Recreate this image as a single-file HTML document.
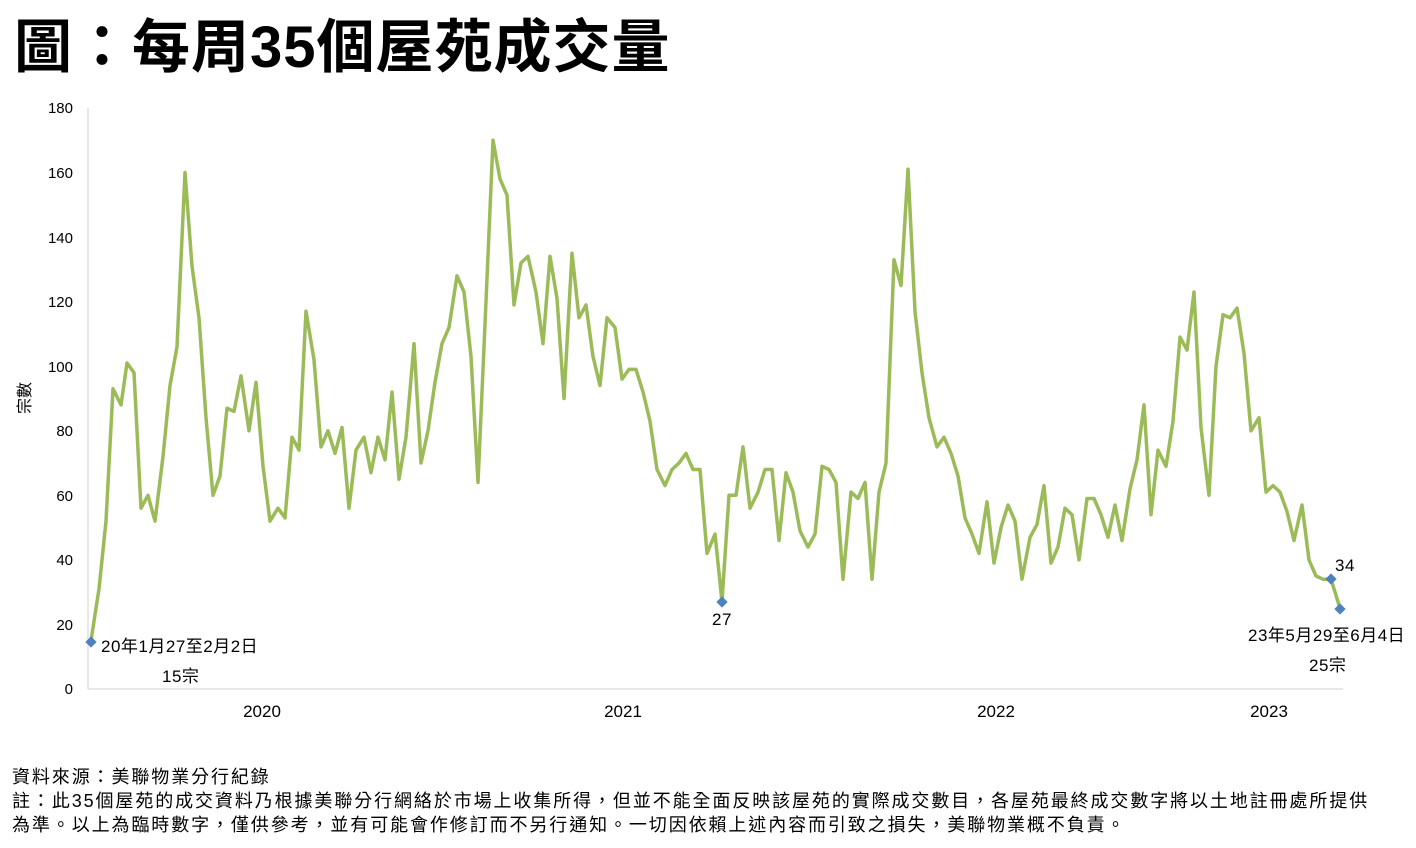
<!DOCTYPE html>
<html><head><meta charset="utf-8"><style>
body{margin:0;background:#fff;width:1416px;height:848px;overflow:hidden;font-family:"Liberation Sans","Noto Sans CJK TC",sans-serif}
.t{position:absolute;left:14px;top:0px;font-size:58px;font-weight:bold;letter-spacing:1px;color:#000}
.f{position:absolute;left:12px;font-size:18px;letter-spacing:1.9px;color:#000;white-space:nowrap}
</style></head><body>
<div class="t">圖：每周35個屋苑成交量</div>
<svg id="s" width="1416" height="848" style="position:absolute;left:0;top:0" font-family="Liberation Sans, Noto Sans CJK TC, sans-serif">
<line x1="88" y1="108" x2="88" y2="689" stroke="#d0d0d0"/>
<line x1="88" y1="689" x2="1343" y2="689" stroke="#d0d0d0"/>
<g font-size="15" text-anchor="end" fill="#000">
<text x="73" y="694">0</text><text x="73" y="630">20</text><text x="73" y="565">40</text><text x="73" y="501">60</text><text x="73" y="436">80</text><text x="73" y="372">100</text><text x="73" y="307">120</text><text x="73" y="243">140</text><text x="73" y="178">160</text><text x="73" y="113">180</text>
</g>
<g font-size="17" text-anchor="middle" fill="#000">
<text x="262" y="717">2020</text><text x="623" y="717">2021</text><text x="996" y="717">2022</text><text x="1269" y="717">2023</text>
</g>
<text transform="translate(30,398) rotate(-90)" font-size="16" text-anchor="middle">宗數</text>
<polyline id="p" fill="none" stroke="#9bbb59" stroke-width="3.5" stroke-linejoin="round"/>
<g fill="#4f81bd">
<rect x="87" y="638" width="8" height="8" transform="rotate(45 91 642)"/>
<rect x="718" y="598" width="8" height="8" transform="rotate(45 722 602)"/>
<rect x="1327" y="575" width="8" height="8" transform="rotate(45 1331 579)"/>
<rect x="1336" y="605" width="8" height="8" transform="rotate(45 1340 609)"/>
</g>
<g font-size="17" fill="#000" letter-spacing="0.5">
<text x="101" y="652">20年1月27至2月2日</text>
<text x="162" y="682">15宗</text>
<text x="712" y="625">27</text>
<text x="1335" y="571">34</text>
<text x="1248" y="641">23年5月29至6月4日</text>
<text x="1309" y="671">25宗</text>
</g>
</svg>
<div class="f" style="top:763px">資料來源：美聯物業分行紀錄</div>
<div class="f" style="top:787px">註：此35個屋苑的成交資料乃根據美聯分行網絡於市場上收集所得，但並不能全面反映該屋苑的實際成交數目，各屋苑最終成交數字將以土地註冊處所提供</div>
<div class="f" style="top:811px">為準。以上為臨時數字，僅供參考，並有可能會作修訂而不另行通知。一切因依賴上述內容而引致之損失，美聯物業概不負責。</div>
<script>
var d=[91,15,99,31,106,52,113,93,121,88,127,101,134,98,141,56,148,60,155,52,163,72,170,94,177,106,185,160,192,131,199,115,206,84,213,60,220,66,227,87,234,86,241,97,249,80,256,95,263,69,270,52,278,56,285,53,292,78,299,74,306,117,314,102,321,75,328,80,335,73,342,81,349,56,356,74,364,78,371,67,378,78,385,71,392,92,399,65,406,78,414,107,421,70,428,80,435,95,442,107,449,112,457,128,464,123,471,103,478,64,486,120,493,170,500,158,507,153,514,119,521,132,528,134,536,123,543,107,550,134,557,121,564,90,572,135,579,115,586,119,593,103,600,94,607,115,615,112,622,96,629,99,636,99,643,92,650,83,657,68,665,63,672,68,679,70,686,73,693,68,700,68,707,42,715,48,722,27,729,60,736,60,743,75,750,56,758,61,765,68,772,68,779,46,786,67,793,61,800,49,808,44,815,48,822,69,829,68,836,64,843,34,851,61,858,59,865,64,872,34,879,61,886,70,894,133,901,125,908,161,915,117,922,98,929,84,937,75,944,78,951,73,958,66,965,53,972,48,979,42,987,58,994,39,1001,50,1008,57,1015,52,1022,34,1030,47,1037,51,1044,63,1051,39,1058,44,1065,56,1072,54,1079,40,1087,59,1094,59,1101,54,1108,47,1115,57,1122,46,1130,62,1137,71,1144,88,1151,54,1158,74,1166,69,1173,83,1180,109,1187,105,1194,123,1201,81,1209,60,1216,100,1223,116,1230,115,1237,118,1244,104,1251,80,1259,84,1266,61,1273,63,1280,61,1287,55,1294,46,1302,57,1309,40,1316,35,1323,34,1331,34,1340,25];
var s=[];for(var i=0;i<d.length;i+=2)s.push(d[i]+","+(689-d[i+1]*3.228).toFixed(1));
document.getElementById("p").setAttribute("points",s.join(" "));
</script>
</body></html>
